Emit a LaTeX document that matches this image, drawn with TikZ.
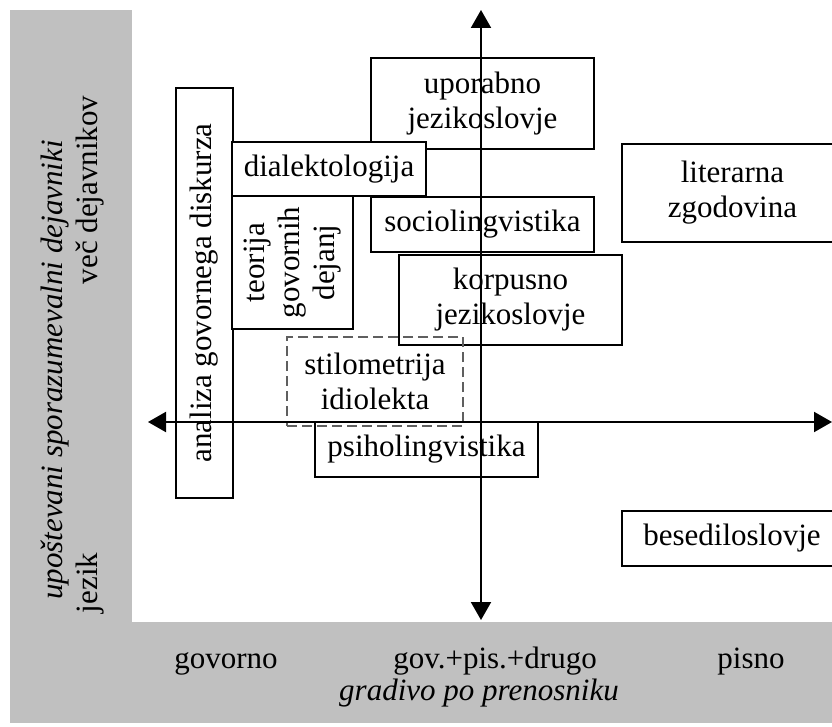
\documentclass[tikz,border=0pt]{standalone}
\usepackage{fontspec}
\setmainfont{Liberation Serif}
\usepackage{tikz}
\usetikzlibrary{arrows.meta}
\definecolor{band}{RGB}{192,192,192}
\definecolor{dashgray}{RGB}{95,95,95}

\begin{document}
\begin{tikzpicture}[x=1pt,y=-1pt,
  field/.style={draw,fill=white,line width=2pt,align=center,inner sep=0pt,
    font=\fontsize{31}{35}\selectfont},
  axis/.style={line width=2pt,
    {Triangle[length=18pt,width=20pt]}-{Triangle[length=18pt,width=20pt]}},
  lbl/.style={anchor=base,font=\fontsize{31}{35}\selectfont}]
  \clip (0,0) rectangle (832,727);

  % gray frame round the plane
  \fill[band] (10,10) rectangle (832,723);
  \fill[white] (132,0) rectangle (832,622);

  % fields
  \node[field,rotate=90,minimum width=410pt,minimum height=57pt]
    (analiza) at (204.5,293) {analiza govornega diskurza};
  \foreach \nm/\cx/\cy/\w/\h/\txt in {
    uporabno/482.5/103.5/223pt/91pt/{uporabno\\jezikoslovje},
    dialekt/329/169/194pt/54pt/{dialektologija},
    socio/482.5/224.5/223pt/55pt/{sociolingvistika},
    korpus/510.5/300/223pt/90pt/{korpusno\\jezikoslovje},
    literar/732.5/193/221pt/98pt/{literarna\\zgodovina},
    psiho/426.5/449.5/223pt/55pt/{psiholingvistika},
    besedilo/732/538.5/220pt/55pt/{besediloslovje}}{
    \node[field,minimum width=\w,minimum height=\h] (\nm) at (\cx,\cy) {\txt};
  }
  \node[field,rotate=90,minimum width=133pt,minimum height=121pt]
    (teorija) at (292.5,262.5) {teorija\\govornih\\dejanj};
  \node[field,fill=none,draw=dashgray,dash pattern=on 10pt off 5pt,
    minimum width=176pt,minimum height=89pt]
    (stilo) at (375,381.5) {stilometrija\\idiolekta};

  % axes
  \coordinate (ytop) at (481,10);
  \coordinate (ybot) at (481,620);
  \coordinate (xleft) at (148,422);
  \coordinate (xright) at (832,422);
  \draw[axis] (ybot) -- (ytop);
  \draw[axis] (xleft) -- (xright);

  % axis labels
  \node[lbl,rotate=90,font=\fontsize{31}{35}\selectfont\itshape]
    (factors) at (62,370) {upoštevani sporazumevalni dejavniki};
  \node[lbl,rotate=90] (many) at (97,190) {več dejavnikov};
  \node[lbl,rotate=90] (lang) at (97,583) {jezik};
  \node[lbl] (spoken) at (226,668) {govorno};
  \node[lbl] (mixed) at (495,668) {gov.+pis.+drugo};
  \node[lbl] (written) at (751,668) {pisno};
  \node[lbl,font=\fontsize{31}{35}\selectfont\itshape]
    (medium) at (479,700) {gradivo po prenosniku};
\end{tikzpicture}
\end{document}
